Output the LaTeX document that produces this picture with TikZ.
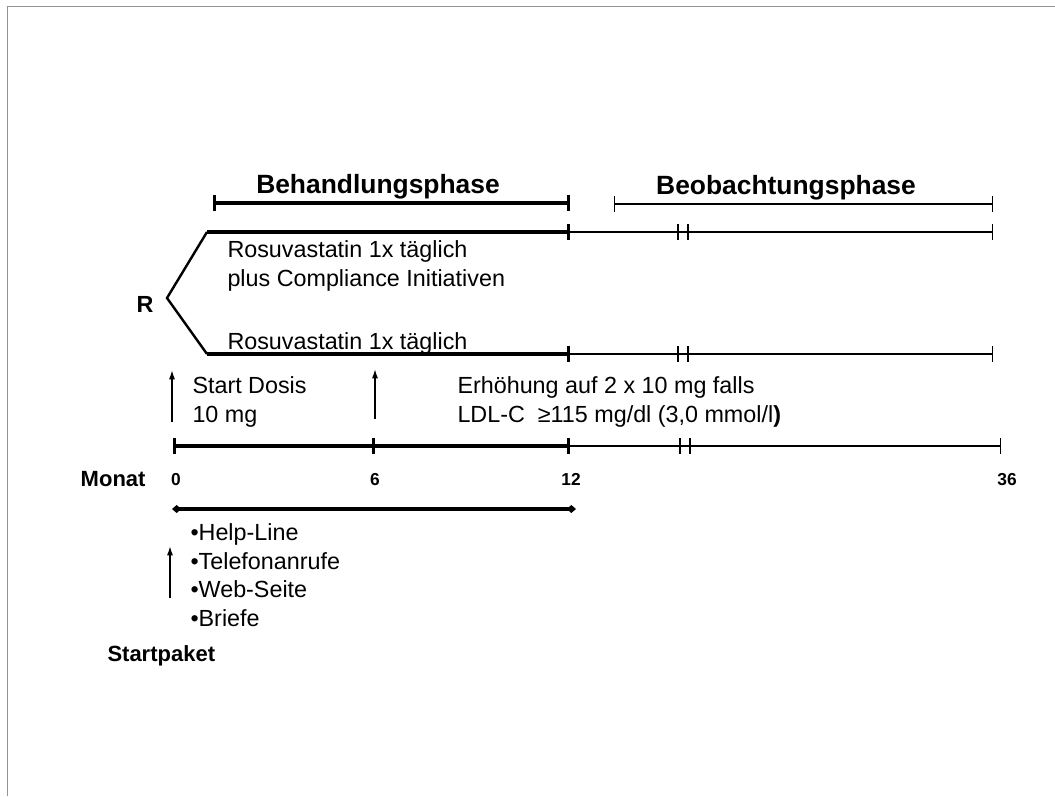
\documentclass[tikz,border=0pt]{standalone}
\usepackage{fontspec}
\setmainfont{Liberation Sans}
\usetikzlibrary{arrows.meta,calc}
\tikzset{every picture/.style={line width=0.75pt}}
\tikzset{
  thickline/.style={line width=2.3pt},
  thinline/.style={line width=1.1pt},
  endbar/.style={{Bar[width=12pt]}-{Bar[width=12pt]}},
  rightbar/.style={-{Bar[width=12pt]}},
  uparrow/.style={line width=1.1pt,-{Latex[length=7pt,width=4.5pt]}},
  txt/.style={font=\fontsize{17.5}{21.5}\selectfont,inner sep=0pt,align=left},
  headtxt/.style={font=\fontsize{19.8}{24}\selectfont\bfseries,inner sep=0pt},
  labtxt/.style={font=\fontsize{16.5}{20}\selectfont\bfseries,inner sep=0pt},
  numtxt/.style={font=\fontsize{13}{15}\selectfont\bfseries,inner sep=0pt,anchor=base},
}

\begin{document}
\begin{tikzpicture}[x=0.75pt,y=0.75pt,yscale=-1,xscale=1]
	\useasboundingbox (0,0) rectangle (1055,796);
	
	%Frame
	\coordinate (fbl) at (7,796);
	\coordinate (ftl) at (7,6);
	\coordinate (ftr) at (1055,6);
	\draw [color=gray!85] (fbl) -- (ftl) -- (ftr) ;
	
	%Phase brackets
	\coordinate (beh1) at (213,203);
	\coordinate (beh2) at (570,203);
	\draw [thickline,endbar] (beh1) -- (beh2) ;
	\coordinate (beo1) at (614,204);
	\coordinate (beo2) at (993,204);
	\draw [thinline,endbar] (beo1) -- (beo2) ;
	
	%Randomisation
	\coordinate (rpt) at (167,298);
	\coordinate (ua0) at (207,232);
	\coordinate (la0) at (207,354);
	\draw [line width=1.8pt] (ua0) -- (rpt) -- (la0) ;
	
	%Upper arm
	\coordinate (ua12) at (570,232);
	\coordinate (uab1) at (678,232);
	\coordinate (uab2) at (688,232);
	\coordinate (ua36) at (993,232);
	\draw [thickline,rightbar] (ua0) -- (ua12) ;
	\draw [thinline,rightbar] (ua12) -- (ua36) ;
	\draw [thinline] ($(uab1)+(0,-8)$) -- ($(uab1)+(0,8)$) ;
	\draw [thinline] ($(uab2)+(0,-8)$) -- ($(uab2)+(0,8)$) ;
	
	%Lower arm
	\coordinate (la12) at (570,354);
	\coordinate (lab1) at (678,354);
	\coordinate (lab2) at (688,354);
	\coordinate (la36) at (993,354);
	\draw [thickline,rightbar] (la0) -- (la12) ;
	\draw [thinline,rightbar] (la12) -- (la36) ;
	\draw [thinline] ($(lab1)+(0,-8)$) -- ($(lab1)+(0,8)$) ;
	\draw [thinline] ($(lab2)+(0,-8)$) -- ($(lab2)+(0,8)$) ;
	
	%Month axis
	\coordinate (t0) at (173,446);
	\coordinate (t6) at (375,446);
	\coordinate (t12) at (570,446);
	\coordinate (tb1) at (680,446);
	\coordinate (tb2) at (690,446);
	\coordinate (t36) at (1001,446);
	\draw [thickline,endbar] (t0) -- (t6) ;
	\draw [thickline,rightbar] (t6) -- (t12) ;
	\draw [thinline,rightbar] (t12) -- (t36) ;
	\draw [thinline] ($(tb1)+(0,-8)$) -- ($(tb1)+(0,8)$) ;
	\draw [thinline] ($(tb2)+(0,-8)$) -- ($(tb2)+(0,8)$) ;
	
	%Compliance period
	\coordinate (cp1) at (172,509);
	\coordinate (cp2) at (576,509);
	\draw [thickline,{Diamond[length=7pt,width=6pt]}-{Diamond[length=7pt,width=6pt]}] (cp1) -- (cp2) ;
	
	%Arrows
	\coordinate (ar0a) at (172,422);
	\coordinate (ar0b) at (172,370);
	\draw [uparrow] (ar0a) -- (ar0b) ;
	\coordinate (ar6a) at (375,419);
	\coordinate (ar6b) at (375,369);
	\draw [uparrow] (ar6a) -- (ar6b) ;
	\coordinate (arpa) at (170,598);
	\coordinate (arpb) at (170,546);
	\draw [uparrow] (arpa) -- (arpb) ;
	
	% Text Node
	\node [headtxt] (behand) at (378,187) {Behandlungsphase};
	% Text Node
	\node [headtxt] (beobacht) at (786,188) {Beobachtungsphase};
	% Text Node
	\node [labtxt,font=\fontsize{17.5}{20}\selectfont\bfseries] (rlabel) at (145,304) {R};
	% Text Node
	\node [txt,anchor=west] (armA) at (227,266) {Rosuvastatin 1x täglich\\plus Compliance Initiativen};
	% Text Node
	\node [txt,anchor=west] (armB) at (227,343) {Rosuvastatin 1x täglich};
	% Text Node
	\node [txt,anchor=west] (dosis) at (192,402) {Start Dosis\\10 mg};
	% Text Node
	\node [txt,anchor=west] (titr) at (457,402) {Erhöhung auf 2 x 10 mg falls\\LDL-C~ ≥115 mg/dl (3,0 mmol/l\textbf{)}};
	% Text Node
	\node [labtxt,anchor=east] (monat) at (146,479) {Monat};
	% Text Node
	\node [numtxt] (m0) at (176,485) {0};
	% Text Node
	\node [numtxt] (m6) at (375,485) {6};
	% Text Node
	\node [numtxt] (m12) at (571,485) {12};
	% Text Node
	\node [numtxt] (m36) at (1007,485) {36};
	% Text Node
	\node [txt,anchor=west] (pkt) at (190,575) {•Help-Line\\•Telefonanrufe\\•Web-Seite\\•Briefe};
	% Text Node
	\node [labtxt,anchor=west] (startpaket) at (107,656) {Startpaket};
	
\end{tikzpicture}
\end{document}
